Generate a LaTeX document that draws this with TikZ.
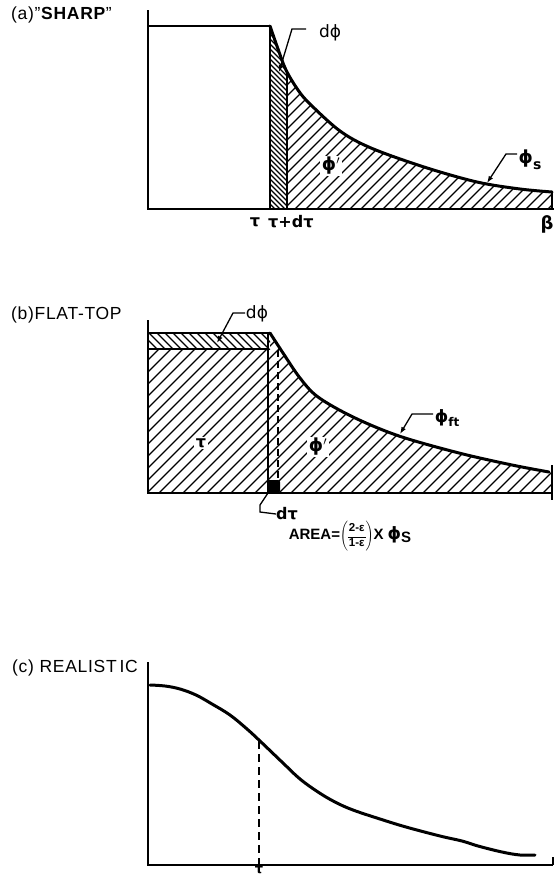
\documentclass[tikz,border=0pt]{standalone}
\usepackage{fontspec}
\setmainfont{Liberation Sans}
\newfontfamily\gk{DejaVu Sans}
\usetikzlibrary{arrows.meta}
\begin{document}
\begin{tikzpicture}[x=1pt,y=-1pt,
  axis/.style={line width=1.8pt},
  curve/.style={line width=3pt, line join=round, line cap=round},
  hatch/.style={line width=1.25pt},
  lead/.style={line width=1.3pt,-{Latex[length=7pt,width=5pt]}},
  leadplain/.style={line width=1.3pt},
  lbl/.style={inner sep=0pt, font=\fontsize{17}{17}\selectfont\gk},
  ttl/.style={inner sep=0pt, anchor=west, font=\fontsize{17.5}{17.5}\selectfont\addfontfeature{LetterSpace=4}},
  wlbl/.style={lbl, fill=white, inner sep=1.5pt},
  ]
\useasboundingbox (0,0) rectangle (554,878);

% ================= (a) SHARP =================
\node[ttl] (ta) at (11,15) {(a)"\textbf{SHARP}"};
\begin{scope}
  \clip plot[smooth, tension=0.55] coordinates {(270,26) (278,49) (286,70) (298,90) (310,104) (340,131) (371,148) (424,167) (477,182) (520,189) (552,192)} -- (552,209) -- (270,209) -- cycle;
  \begin{scope}
    \clip (270,0) rectangle (287,215);
    \foreach \k in {-10,...,50} \draw[hatch] (266,\k*5) -- ++(25,25);
  \end{scope}
  \begin{scope}
    \clip (287,0) rectangle (553,215);
    \foreach \k in {0,...,45} \draw[hatch] (80+\k*11,215) -- ++(230,-230);
  \end{scope}
\end{scope}
\draw[axis] (148,10) -- (148,209) -- (554,209);
\draw[axis] (552,192) -- (552,209);
\draw[axis] (148,26) -- (270,26) -- (270,209);
\draw[line width=1.5pt] (287,70) -- (287,209);
\draw[curve] plot[smooth, tension=0.55] coordinates {(270,26) (278,49) (286,70) (298,90) (310,104) (340,131) (371,148) (424,167) (477,182) (520,189) (552,192)};
\node[lbl, font=\fontsize{16}{16}\selectfont\gk\bfseries] (tauA) at (255,222) {τ};
\node[lbl, anchor=west, font=\fontsize{16}{16}\selectfont\gk\bfseries] (taudA) at (268,222) {τ+dτ};
\node[lbl, font=\fontsize{18}{18}\selectfont\gk\bfseries] (betaA) at (547,224) {β};
\node[lbl] (dphiA) at (330,33) {dϕ};
\coordinate (dphiAtip) at (279,72);
\draw[lead] (306,29) -- (292,29) -- (dphiAtip);
\node[wlbl, font=\fontsize{18}{18}\selectfont\gk\bfseries] (phipA) at (331,166) {ϕ$^{\prime}$};
\node[lbl, font=\fontsize{18}{18}\selectfont\gk\bfseries] (phisA) at (530,160) {ϕ\raisebox{-6pt}{\fontsize{14}{14}\selectfont\bfseries s}};
\coordinate (phisAtip) at (487,183);
\draw[lead] (517,154) -- (506,154) -- (phisAtip);

% ================= (b) FLAT-TOP =================
\node[ttl] (tb) at (11,315) {(b)FLAT-TOP};
\begin{scope}
  \clip (148,349) -- (270,349) -- (270,333) -- plot[smooth, tension=0.55] coordinates {(270,333) (283,353) (300,378) (318,397) (353,417) (399,436) (459,453) (512,465) (549,472)} -- (552,472) -- (552,493) -- (148,493) -- cycle;
  \foreach \k in {0,...,55} \draw[hatch] (-40+\k*12,500) -- ++(240,-240);
\end{scope}
\begin{scope}
  \clip (148,333) rectangle (270,349);
  \foreach \k in {0,...,20} \draw[hatch] (120+\k*8,320) -- ++(40,40);
\end{scope}
\draw[axis] (148,320) -- (148,493) -- (552,493);
\draw[axis] (552,465) -- (552,500);
\draw[axis] (148,333) -- (270,333);
\draw[axis] (148,349) -- (268,349);
\draw[axis] (268,333) -- (268,493);
\draw[line width=1.5pt, dash pattern=on 7pt off 4pt] (278,350) -- (278,482);
\draw[curve] plot[smooth, tension=0.55] coordinates {(270,333) (283,353) (300,378) (318,397) (353,417) (399,436) (459,453) (512,465) (549,472)};
\fill[rounded corners=2pt] (267,480) rectangle (280,493);
\node[lbl] (dphiB) at (257,314) {dϕ};
\coordinate (dphiBtip) at (217,343);
\draw[lead] (245,313) -- (233,313) -- (dphiBtip);
\node[wlbl, font=\fontsize{16}{16}\selectfont\gk\bfseries] (tauB) at (201,443) {τ};
\node[wlbl, font=\fontsize{18}{18}\selectfont\gk\bfseries] (phipB) at (318,447) {ϕ$^{\prime}$};
\node[lbl, font=\fontsize{17}{17}\selectfont\gk\bfseries] (phiftB) at (447,418) {ϕ\raisebox{-4pt}{\fontsize{12}{12}\selectfont\bfseries ft}};
\coordinate (phiftBtip) at (400,434);
\draw[lead] (433,414) -- (412,414) -- (phiftBtip);
\node[lbl, anchor=west, font=\fontsize{16}{16}\selectfont\gk\bfseries] (dtauB) at (276,514) {dτ};
\coordinate (dtauBbase) at (268,493);
\draw[leadplain] (dtauBbase) -- (260,505) -- (260,512) -- (dtauB.west);
% AREA formula
\node[inner sep=0pt, font=\fontsize{15}{15}\selectfont\bfseries] (area) at (350,536)
  {AREA=$\left(\mbox{\fontsize{11.5}{11.5}\selectfont\bfseries\setlength{\tabcolsep}{1pt}\renewcommand{\arraystretch}{1.15}\begin{tabular}{c}2-ε\\[1pt]\hline 1-ε\end{tabular}}\right)$X {\gk\fontsize{17}{17}\selectfont ϕ}\raisebox{-3pt}{S}};

% ================= (c) REALISTIC =================
\node[ttl] (tc) at (12,668) {(c) REALIST\,IC};
\draw[axis] (148,662) -- (148,865) -- (553,865);
\draw[axis] (553,857) -- (553,865);
\draw[curve] plot[smooth, tension=0.6] coordinates {(150,685) (165,686) (180,689) (196,695) (212,704) (230,715) (247,729) (260,741) (283,763) (300,779) (318,792) (335,802) (353,810) (380,819) (406,827) (440,836) (462,841) (478,846) (502,852) (520,855) (535,855)};
\coordinate (tauCtop) at (259,741);
\node[lbl, anchor=north, font=\fontsize{13}{13}\selectfont\gk\bfseries] (tauC) at (259,866.5) {τ};
\draw[line width=1.5pt, dash pattern=on 8pt off 5pt] (tauCtop) -- (259,865);
\end{tikzpicture}
\end{document}
